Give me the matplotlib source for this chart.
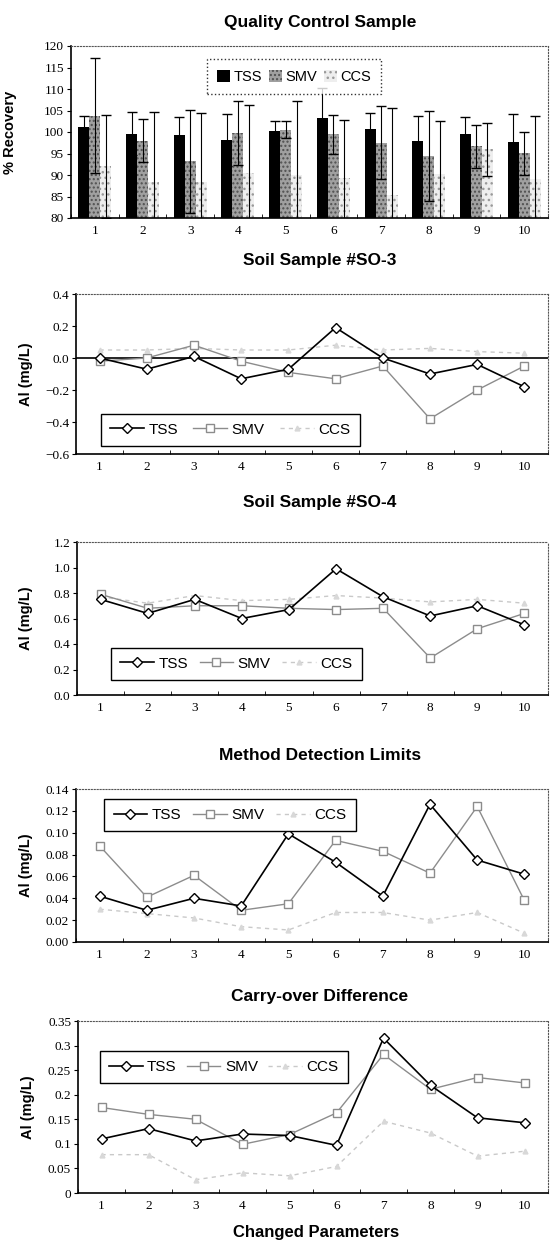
import numpy as np
import matplotlib.pyplot as plt
from matplotlib.lines import Line2D

# ---- data ----
params = np.arange(1, 11)
param_labels = ["1", "2", "3", "4", "5", "6", "7", "8", "9", "10"]

# Quality control sample, % recovery (bar = mean, err = +/- sd)
qc_tss = [101.2, 99.6, 99.2, 98.1, 100.3, 103.3, 100.6, 98.0, 99.6, 97.7]
qc_tss_err = [2.6, 5.0, 4.3, 6.0, 2.2, 7.0, 3.8, 5.8, 4.0, 6.6]
qc_smv = [103.8, 98.0, 93.2, 99.8, 100.5, 99.5, 97.5, 94.5, 96.7, 95.1]
qc_smv_err = [13.4, 5.0, 12.0, 7.5, 2.0, 4.5, 8.5, 10.5, 5.0, 5.0]
qc_ccs = [92.0, 88.3, 88.3, 90.5, 90.0, 89.3, 85.3, 90.3, 96.0, 89.0]
qc_ccs_err = [12.0, 16.4, 16.1, 15.8, 17.2, 13.5, 20.2, 12.2, 6.2, 14.8]
qc_yticks = [80, 85, 90, 95, 100, 105, 110, 115, 120]

# Soil sample SO-3
so3_tss = [0.00, -0.07, 0.01, -0.13, -0.07, 0.19, 0.00, -0.10, -0.04, -0.18]
so3_smv = [-0.02, 0.00, 0.08, -0.02, -0.09, -0.13, -0.05, -0.38, -0.20, -0.05]
so3_ccs = [0.05, 0.05, 0.06, 0.05, 0.05, 0.08, 0.05, 0.06, 0.04, 0.03]
so3_yticks = [-0.6, -0.4, -0.2, 0.0, 0.2, 0.4]
so3_ylabels = ["\u22120.6", "\u22120.4", "\u22120.2", "0.0", "0.2", "0.4"]

# Soil sample SO-4
so4_tss = [0.75, 0.64, 0.75, 0.60, 0.67, 0.99, 0.77, 0.62, 0.70, 0.55]
so4_smv = [0.79, 0.68, 0.70, 0.70, 0.68, 0.67, 0.68, 0.29, 0.52, 0.64]
so4_ccs = [0.77, 0.72, 0.78, 0.74, 0.75, 0.78, 0.76, 0.73, 0.75, 0.72]
so4_yticks = [0.0, 0.2, 0.4, 0.6, 0.8, 1.0, 1.2]
so4_ylabels = ["0.0", "0.2", "0.4", "0.6", "0.8", "1.0", "1.2"]

# Method detection limits
mdl_tss = [0.042, 0.029, 0.040, 0.033, 0.099, 0.073, 0.042, 0.126, 0.075, 0.062]
mdl_smv = [0.088, 0.041, 0.061, 0.029, 0.035, 0.093, 0.083, 0.063, 0.124, 0.038]
mdl_ccs = [0.030, 0.026, 0.022, 0.014, 0.011, 0.027, 0.027, 0.020, 0.027, 0.008]
mdl_yticks = [0.0, 0.02, 0.04, 0.06, 0.08, 0.10, 0.12, 0.14]
mdl_ylabels = ["0.00", "0.02", "0.04", "0.06", "0.08", "0.10", "0.12", "0.14"]

# Carry-over difference
co_tss = [0.110, 0.131, 0.106, 0.120, 0.117, 0.097, 0.315, 0.219, 0.153, 0.143]
co_smv = [0.174, 0.160, 0.150, 0.099, 0.119, 0.163, 0.282, 0.211, 0.235, 0.224]
co_ccs = [0.078, 0.078, 0.027, 0.041, 0.035, 0.054, 0.146, 0.122, 0.075, 0.085]
co_yticks = [0, 0.05, 0.1, 0.15, 0.2, 0.25, 0.3, 0.35]
co_ylabels = ["0", "0.05", "0.1", "0.15", "0.2", "0.25", "0.3", "0.35"]

# ---- figure ----
W, H = 551, 1242
fig = plt.figure(figsize=(W / 100, H / 100), dpi=100)

SERIF = "Liberation Serif"
SANS = "Liberation Sans"


def rect(left, top, bottom, right=548):
    return [left / W, 1 - bottom / H, (right - left) / W, (bottom - top) / H]


def style_axes(ax, ylab, ylab_x):
    for s in ["top", "right"]:
        ax.spines[s].set_linestyle(":")
        ax.spines[s].set_color("#555555")
        ax.spines[s].set_linewidth(0.8)
    for s in ["left", "bottom"]:
        ax.spines[s].set_linewidth(1.2)
    ax.set_xlim(0.5, 10.5)
    ax.set_xticks(params)
    ax.set_xticklabels(param_labels, fontfamily=SERIF, fontsize=9.5)
    ax.set_xticks(np.arange(0.5, 11, 1), minor=True)
    ax.tick_params(axis="x", which="major", length=0, pad=5)
    ax.tick_params(axis="x", which="minor", direction="in", length=3)
    ax.tick_params(axis="y", direction="out", length=3, pad=2)
    for t in ax.get_yticklabels():
        t.set_fontfamily(SERIF)
        t.set_fontsize(9.5)
    ax.set_ylabel(ylab, fontfamily=SANS, fontweight="bold", fontsize=10.5)
    bbox = ax.get_position()
    ax.yaxis.set_label_coords((ylab_x / W - bbox.x0) / bbox.width, 0.5)


def title(text, y):
    fig.text(320 / W, 1 - y / H, text, ha="center", va="center",
             fontfamily=SANS, fontweight="bold", fontsize=12.5)


# ---- panel 1: bars ----
ax1 = fig.add_axes(rect(71, 46, 218))
w = 0.23
b1 = ax1.bar(params - w, qc_tss, w, color="black", linewidth=0)
b2 = ax1.bar(params, qc_smv, w, color="#a0a0a0", edgecolor="#505050",
             hatch="....", linewidth=0)
b3 = ax1.bar(params + w, qc_ccs, w, color="#eeeeee", edgecolor="#9a9a9a",
             hatch="...", linewidth=0)
ekw = dict(fmt="none", ecolor="black", elinewidth=0.8, capsize=3.5, capthick=1)
ax1.errorbar(params - w, qc_tss, yerr=qc_tss_err, **ekw)
ax1.errorbar(params, qc_smv, yerr=qc_smv_err, **ekw)
ax1.errorbar(params + w, qc_ccs, yerr=qc_ccs_err, **ekw)
ax1.set_ylim(80, 120)
ax1.set_yticks(qc_yticks)
style_axes(ax1, "% Recovery", 17)
leg = ax1.legend([b1, b2, b3], ["TSS", "SMV", "CCS"], ncol=3, loc="upper left",
                 bbox_to_anchor=(0.27, 0.965, 0.395, 0), mode="expand",
                 prop={"family": SANS, "size": 10.5}, handlelength=0.9,
                 handleheight=0.9, handletextpad=0.2, columnspacing=0.5,
                 borderpad=0.7, fancybox=False, edgecolor="black")
leg.get_frame().set_linestyle(":")
leg.get_frame().set_linewidth(1)
title("Quality Control Sample", 22)


# ---- line panels ----
def line_panel(box, tss, smv, ccs, yl, yticks, ylabels, leg_box, ylab_x):
    ax = fig.add_axes(box)
    ax.plot(params, ccs, color="#c9c9c9", lw=1, ls=(0, (3, 3)),
            marker="^", ms=3.5, mfc="#d8d8d8", mec="#d8d8d8")
    ax.plot(params, smv, color="#8c8c8c", lw=1, marker="s", ms=6,
            mfc="white", mec="#8c8c8c", mew=1)
    ax.plot(params, tss, color="black", lw=1.2, marker="D", ms=5.5,
            mfc="white", mec="black", mew=1)
    ax.set_ylim(*yl)
    ax.set_yticks(yticks)
    ax.set_yticklabels(ylabels)
    style_axes(ax, "Al (mg/L)", ylab_x)
    handles = [
        Line2D([], [], color="black", lw=1.2, marker="D", ms=5.5, mfc="white", mec="black"),
        Line2D([], [], color="#8c8c8c", lw=1, marker="s", ms=6, mfc="white", mec="#8c8c8c"),
        Line2D([], [], color="#c9c9c9", lw=1, ls=(0, (3, 3)), marker="^", ms=3.5,
               mfc="#d8d8d8", mec="#d8d8d8"),
    ]
    ax.legend(handles, ["TSS", "SMV", "CCS"], ncol=3, loc="upper left",
              bbox_to_anchor=(leg_box[0], leg_box[1], leg_box[2], 0), mode="expand",
              prop={"family": SANS, "size": 11}, handlelength=2.2,
              handletextpad=0.3, columnspacing=0.6, borderpad=0.6,
              fancybox=False, edgecolor="black", framealpha=1)
    ax.get_legend().get_frame().set_linewidth(1)
    return ax


ax2 = line_panel(rect(76, 294, 454), so3_tss, so3_smv, so3_ccs, (-0.6, 0.4),
                 so3_yticks, so3_ylabels, (0.037, 0.30, 0.58), 33)
ax2.axhline(0, color="black", lw=1.2, zorder=1)
title("Soil Sample #SO-3", 260)

ax3 = line_panel(rect(77, 542, 695), so4_tss, so4_smv, so4_ccs, (0.0, 1.2),
                 so4_yticks, so4_ylabels, (0.056, 0.36, 0.565), 33)
title("Soil Sample #SO-4", 503)

ax4 = line_panel(rect(76, 789, 942), mdl_tss, mdl_smv, mdl_ccs, (0.0, 0.14),
                 mdl_yticks, mdl_ylabels, (0.044, 0.985, 0.565), 33)
title("Method Detection Limits", 755)

ax5 = line_panel(rect(78, 1021, 1193), co_tss, co_smv, co_ccs, (0.0, 0.35),
                 co_yticks, co_ylabels, (0.03, 0.87, 0.56), 35)
title("Carry-over Difference", 997)
fig.text(316 / W, 1 - 1233 / H, "Changed Parameters", ha="center", va="center",
         fontfamily=SANS, fontweight="bold", fontsize=12)

fig.savefig("out.png", dpi=100)
